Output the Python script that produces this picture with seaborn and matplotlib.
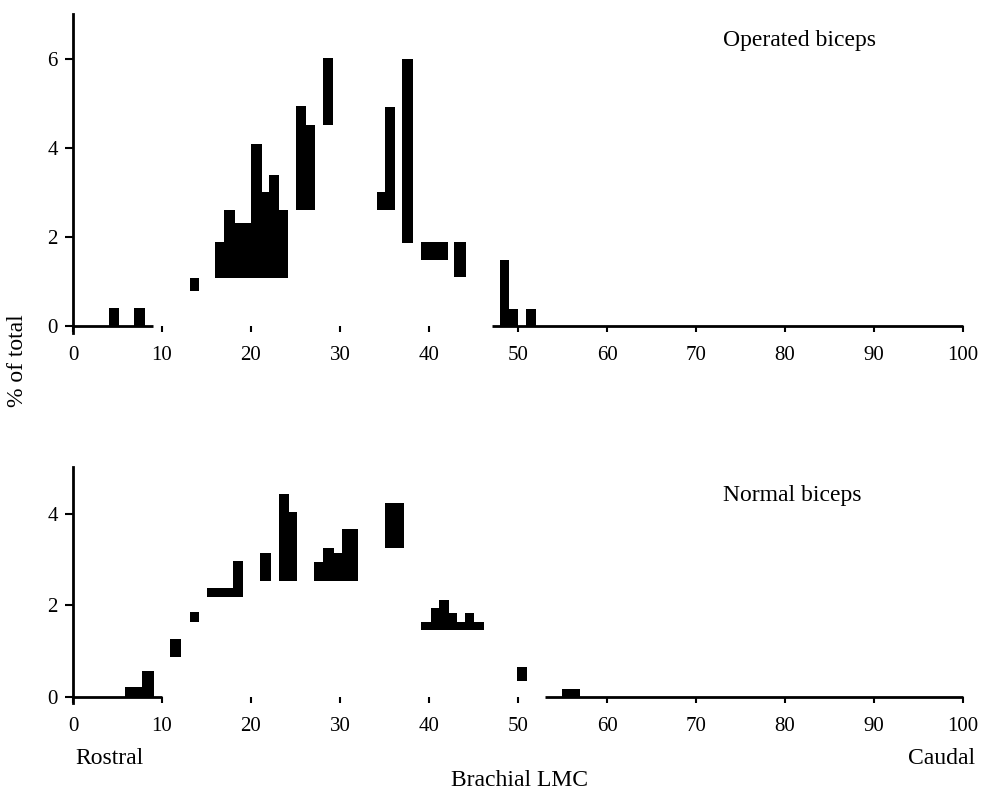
import numpy as np
import matplotlib
matplotlib.use('Agg')
import matplotlib.pyplot as plt
import seaborn as sns

# ---------------------------------------------------------------------------- #
# DATA  (x: position along brachial LMC in %, y: % of total)                   #
# ---------------------------------------------------------------------------- #
# operated biceps
op_start = [4.0, 6.8, 13.1, 16.0, 17.0, 18.2, 19.1, 20.0, 21.2, 22.0, 23.1,
            25.1, 26.2, 28.1, 34.2, 35.06, 37.0, 39.1, 40.1, 41.1, 42.8,
            48.0, 49.0, 50.9]
op_end = [5.2, 8.1, 14.2, 17.0, 18.2, 19.1, 20.0, 21.2, 22.0, 23.1, 24.2,
          26.2, 27.2, 29.25, 35.06, 36.2, 38.2, 40.1, 41.1, 42.1, 44.2,
          49.0, 50.0, 52.0]
op_low = [0, 0, 0.79, 1.08, 1.08, 1.08, 1.08, 1.08, 1.08, 1.08, 1.08,
          2.61, 2.61, 4.50, 2.61, 2.61, 1.87, 1.48, 1.48, 1.48, 1.09,
          0, 0, 0]
op_high = [0.40, 0.40, 1.07, 1.88, 2.61, 2.32, 2.32, 4.09, 3.01, 3.39, 2.61,
           4.93, 4.52, 6.02, 3.00, 4.91, 5.99, 1.88, 1.88, 1.88, 1.88,
           1.48, 0.37, 0.37]
op_base_start = [0, 47.1]
op_base_end = [9.0, 100]

# normal biceps
nb_start = [5.8, 6.8, 7.8, 10.9, 13.1, 15.1, 16.1, 17.0, 18.0, 21.0, 23.1,
            24.3, 27.1, 28.1, 29.3, 30.2, 31.1, 35.1, 36.2, 39.06, 40.2,
            41.1, 42.2, 43.1, 44.0, 45.06, 49.9, 54.9, 56.0]
nb_end = [6.8, 7.8, 9.1, 12.1, 14.2, 16.1, 17.0, 18.0, 19.1, 22.3, 24.3,
          25.2, 28.1, 29.3, 30.2, 31.1, 32.06, 36.2, 37.2, 40.2, 41.1,
          42.2, 43.1, 44.0, 45.06, 46.2, 51.0, 56.0, 57.0]
nb_low = [0, 0, 0, 0.86, 1.64, 2.19, 2.19, 2.19, 2.19, 2.54, 2.54,
          2.54, 2.54, 2.54, 2.54, 2.54, 2.54, 3.27, 3.27, 1.46, 1.46,
          1.46, 1.46, 1.46, 1.46, 1.46, 0.35, 0, 0]
nb_high = [0.21, 0.21, 0.57, 1.26, 1.86, 2.38, 2.38, 2.38, 2.97, 3.16, 4.44,
           4.06, 2.96, 3.27, 3.16, 3.67, 3.67, 4.25, 4.25, 1.64, 1.94,
           2.12, 1.84, 1.64, 1.84, 1.64, 0.64, 0.16, 0.16]
nb_base_start = [0, 53.0]
nb_base_end = [10.0, 100]

x_ticks = list(range(0, 101, 10))
op_yticks = [0, 2, 4, 6]
nb_yticks = [0, 2, 4]

# ---------------------------------------------------------------------------- #
# PLOT                                                                         #
# ---------------------------------------------------------------------------- #
sns.set_theme(style='ticks')
plt.rcParams['font.family'] = ['Liberation Serif', 'DejaVu Serif']
plt.rcParams['text.color'] = 'black'

fig = plt.figure(figsize=(9.81, 7.93), dpi=100)
ax1 = fig.add_axes([0.0744, 0.5805, 0.9073, 0.4018])
ax2 = fig.add_axes([0.0744, 0.1129, 0.9073, 0.2978])


def draw_panel(ax, start, end, low, high, b_start, b_end, yticks, ylim, label, label_y):
    start = np.array(start)
    end = np.array(end)
    low = np.array(low)
    high = np.array(high)
    ax.bar(start, high - low, width=end - start, bottom=low, align='edge',
           color='black', linewidth=0)
    ax.hlines(np.zeros(len(b_start)), b_start, b_end, color='black',
              linewidth=2.0, clip_on=False)
    ax.set_xlim(0, 100)
    ax.set_ylim(*ylim)
    ax.set_xticks(x_ticks)
    ax.set_yticks(yticks)
    ax.spines['top'].set_visible(False)
    ax.spines['right'].set_visible(False)
    ax.spines['bottom'].set_position(('data', 0))
    ax.spines['bottom'].set_visible(False)
    ax.spines['left'].set_linewidth(2.0)
    ax.spines['left'].set_color('black')
    ax.tick_params(axis='x', direction='out', length=4.5, width=1.5,
                   color='black', pad=10, labelsize=15, labelcolor='black')
    ax.tick_params(axis='y', direction='out', length=6, width=1.5,
                   color='black', pad=5, labelsize=15, labelcolor='black')
    ax.text(73.0, label_y, label, fontsize=17, va='center', ha='left', color='black')
    ax.grid(False)


draw_panel(ax1, op_start, op_end, op_low, op_high, op_base_start, op_base_end,
           op_yticks, (-0.15, 7.0), 'Operated biceps', 6.4)
draw_panel(ax2, nb_start, nb_end, nb_low, nb_high, nb_base_start, nb_base_end,
           nb_yticks, (-0.15, 5.03), 'Normal biceps', 4.42)

fig.text(0.018, 0.545, '% of total', rotation=90, fontsize=17,
         ha='center', va='center', color='black')
fig.text(0.077, 0.044, 'Rostral', fontsize=17, ha='left', va='center', color='black')
fig.text(0.994, 0.044, 'Caudal', fontsize=17, ha='right', va='center', color='black')
fig.text(0.530, 0.003, 'Brachial LMC', fontsize=17, ha='center', va='bottom',
         color='black')

plt.savefig('out.png', dpi=100)
